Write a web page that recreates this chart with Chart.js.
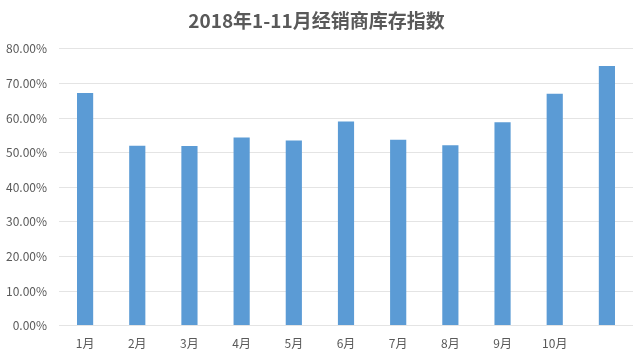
<!DOCTYPE html>
<html>
<head>
<meta charset="utf-8">
<script src="https://cdn.jsdelivr.net/npm/chart.js@4.4.0/dist/chart.umd.min.js"></script>
<style>
  html, body { margin: 0; padding: 0; background: #fff; }
  #wrap { width: 640px; height: 360px; }
</style>
</head>
<body>
<div id="wrap"><canvas id="stockChart" width="640" height="360"></canvas></div>
<script>
// 月份 (最后一根柱子在原图里没有标签)
const months = ["1月", "2月", "3月", "4月", "5月", "6月", "7月", "8月", "9月", "10月", ""];
// 经销商库存指数
const stockIndex = [0.672, 0.520, 0.519, 0.544, 0.535, 0.590, 0.537, 0.521, 0.588, 0.670, 0.750];
const yMax = 0.8;
const yStep = 0.1;

const cjk = "'Noto Sans CJK SC', 'Noto Sans', sans-serif";

const stockData = {
  labels: months,
  datasets: [{
    label: "经销商库存指数",
    data: stockIndex,
    backgroundColor: "#5B9BD5",
    borderWidth: 0,
    barPercentage: 0.31,
    categoryPercentage: 1.0
  }]
};

const stockConfig = {
  type: "bar",
  data: stockData,
  options: {
    responsive: false,
    animation: false,
    layout: { padding: { left: 0, right: 7, top: 0, bottom: 6 } },
    plugins: {
      legend: { display: false },
      tooltip: { enabled: false },
      title: {
        display: true,
        text: "2018年1-11月经销商库存指数",
        color: "#595959",
        font: { family: cjk, size: 19, weight: "bold" },
        padding: { top: 9, bottom: 17 }
      }
    },
    scales: {
      x: {
        grid: { display: false },
        border: { display: false },
        ticks: {
          color: "#595959",
          font: { family: cjk, size: 12 },
          padding: 3,
          maxRotation: 0,
          autoSkip: false
        }
      },
      y: {
        min: 0,
        max: yMax,
        afterFit: function (scale) { scale.width = 59; },
        grid: { color: "#E4E4E4", drawTicks: false },
        border: { display: false },
        ticks: {
          stepSize: yStep,
          color: "#595959",
          font: { family: cjk, size: 12 },
          padding: 12,
          callback: function (v) { return (v * 100).toFixed(2) + "%"; }
        }
      }
    }
  }
};

var stockChart = new Chart(document.getElementById("stockChart"), stockConfig);
</script>
</body>
</html>
